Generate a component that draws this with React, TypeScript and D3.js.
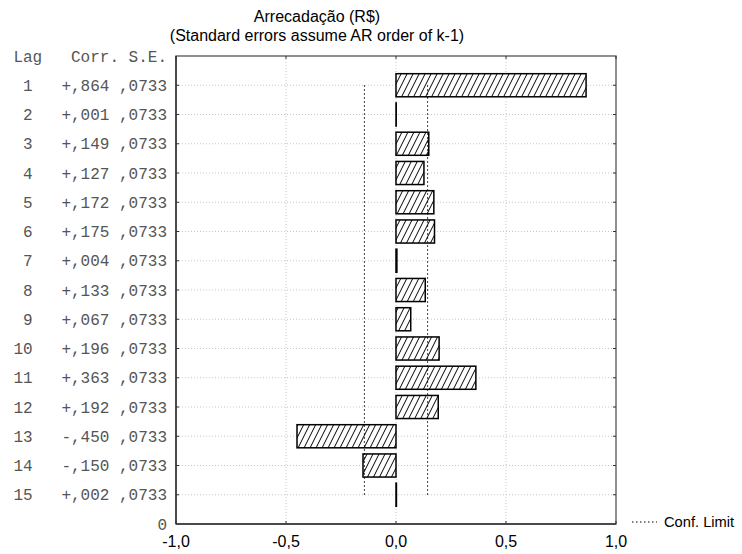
import React from "react";
import * as d3 from "d3";

const titleLines = ["Arrecadação (R$)", "(Standard errors assume AR order of k-1)"];
const lags = [1, 2, 3, 4, 5, 6, 7, 8, 9, 10, 11, 12, 13, 14, 15];
const corr = [0.864, 0.001, 0.149, 0.127, 0.172, 0.175, 0.004, 0.133, 0.067, 0.196, 0.363, 0.192, -0.45, -0.15, 0.002];
const se = [0.0733, 0.0733, 0.0733, 0.0733, 0.0733, 0.0733, 0.0733, 0.0733, 0.0733, 0.0733, 0.0733, 0.0733, 0.0733, 0.0733, 0.0733];
const xTicks = [-1, -0.5, 0, 0.5, 1];
const xTickLabels = ["-1,0", "-0,5", "0,0", "0,5", "1,0"];
const headerLabel = "Lag   Corr. S.E.";
const zeroLabel = "0";
const legendLabel = "Conf. Limit";

const W = 742;
const H = 554;
const L = 176, R = 616, T = 56, B = 524;

const NB = "\u00A0";
const fmtCorr = (v: number) => (v < 0 ? "-" : "+") + "," + Math.abs(v).toFixed(3).slice(2);
const fmtSe = (v: number) => "," + v.toFixed(4).slice(2);
const pre = (s: string) => s.replace(/ /g, NB);

export default function App() {
  const x = d3.scaleLinear().domain([-1, 1]).range([L, R]);
  const y = d3.scaleLinear().domain([0, 16]).range([T, B]);
  const band = (y(1) - y(0)) * 0.79;
  const conf = 1.96 * se[0];
  const mono = "'Liberation Mono', 'Courier New', monospace";
  const sans = "'Liberation Sans', Arial, sans-serif";

  return (
    <svg width={W} height={H} style={{ position: "absolute", left: 0, top: 0, background: "#fff" }}>
      <defs>
        <pattern id="hatch" patternUnits="userSpaceOnUse" width={6} height={12}>
          <rect width={6} height={12} fill="#fff" />
          <line x1={0} y1={12} x2={6} y2={0} stroke="#000" strokeWidth={1} />
          <line x1={-1} y1={2} x2={0} y2={0} stroke="#000" strokeWidth={1} />
          <line x1={6} y1={12} x2={7} y2={10} stroke="#000" strokeWidth={1} />
        </pattern>
      </defs>
      {/* title */}
      {titleLines.map((t, i) => (
        <text key={i} x={317} y={22 + i * 19} textAnchor="middle" fontFamily={sans} fontSize={16} fill="#000">
          {t}
        </text>
      ))}
      {/* grid */}
      {lags.map((l) => (
        <line key={"gh" + l} x1={L} x2={R} y1={y(l)} y2={y(l)} stroke="#c8c8c8" strokeWidth={1} strokeDasharray="1,2" />
      ))}
      {xTicks.slice(1, -1).map((t) => (
        <line key={"gv" + t} x1={x(t)} x2={x(t)} y1={T} y2={B} stroke="#c8c8c8" strokeWidth={1} strokeDasharray="1,2" />
      ))}
      {/* frame */}
      <rect x={L} y={T} width={R - L} height={B - T} fill="none" stroke="#555" strokeWidth={1.3} />
      <line x1={L} x2={R} y1={B} y2={B} stroke="#333" strokeWidth={1.5} />
      <line x1={L} x2={L} y1={T} y2={B} stroke="#333" strokeWidth={1.5} />
      {/* ticks */}
      {lags.map((l) => (
        <g key={"tk" + l}>
          <line x1={L} x2={L + 3} y1={y(l)} y2={y(l)} stroke="#333" />
          <line x1={R} x2={R - 3} y1={y(l)} y2={y(l)} stroke="#333" />
        </g>
      ))}
      {xTicks.map((t) => (
        <g key={"tx" + t}>
          <line x1={x(t)} x2={x(t)} y1={B} y2={B - 3} stroke="#333" />
          <line x1={x(t)} x2={x(t)} y1={T} y2={T + 3} stroke="#333" />
        </g>
      ))}
      {/* bars */}
      {lags.map((l, i) => {
        const x0 = x(Math.min(0, corr[i]));
        const x1 = x(Math.max(0, corr[i]));
        return (
          <rect
            key={"b" + l}
            x={x0}
            y={y(l) - band / 2}
            width={x1 - x0}
            height={band}
            fill="url(#hatch)"
            stroke="#000"
            strokeWidth={1.5}
          />
        );
      })}
      {/* conf limits */}
      {[-conf, conf].map((c) => (
        <line key={"c" + c} x1={x(c)} x2={x(c)} y1={y(lags[0])} y2={y(lags[lags.length - 1])} stroke="#000" strokeWidth={1} strokeDasharray="1.5,2.5" />
      ))}
      {/* y labels */}
      <g fontFamily={mono} fontSize={16} fill="#555" textAnchor="end">
        <text x={167} y={y(0)} dy="0.35em">{pre(headerLabel)}</text>
        {lags.map((l, i) => (
          <text key={"yl" + l} x={167} y={y(l)} dy="0.35em">
            {pre(String(l).padStart(2, " ") + "   " + fmtCorr(corr[i]) + " " + fmtSe(se[i]))}
          </text>
        ))}
        <text x={167} y={y(16)} dy="0.35em">{zeroLabel}</text>
      </g>
      {/* x labels */}
      {xTicks.map((t, i) => (
        <text key={"xl" + t} x={x(t)} y={547} textAnchor="middle" fontFamily={sans} fontSize={16} fill="#000">
          {xTickLabels[i]}
        </text>
      ))}
      {/* legend */}
      <line x1={632} x2={657} y1={522} y2={522} stroke="#000" strokeWidth={1} strokeDasharray="1.5,2.5" />
      <text x={664} y={527} fontFamily={sans} fontSize={14.7} fill="#000">{legendLabel}</text>
    </svg>
  );
}
